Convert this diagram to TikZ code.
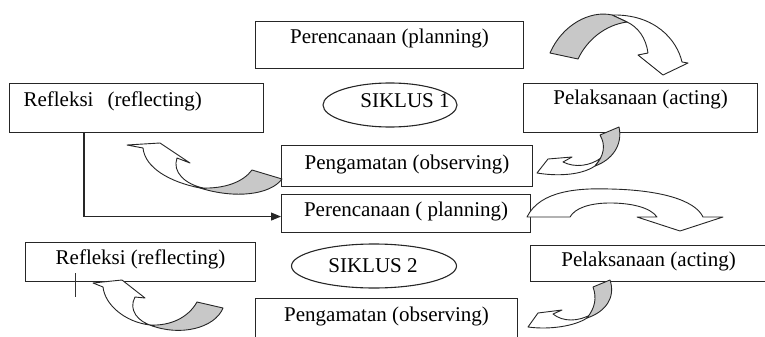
\documentclass[tikz,border=0pt]{standalone}
\usepackage{fontspec}
\setmainfont{Liberation Serif}
\usetikzlibrary{shapes.geometric,arrows.meta}
\newcommand{\stagefont}{\fontsize{21}{25}\selectfont}
\definecolor{backgrey}{RGB}{200,200,200}
\tikzset{
  stage/.style={draw=black!85, line width=1.1pt, inner sep=0pt, font=\stagefont, anchor=north west},
  siklusring/.style={draw=black!85, ellipse, line width=1.1pt, inner sep=0pt},
  bendfront/.style={draw=black!85, fill=white, line width=0.9pt, line join=round},
  bendback/.style={draw=black!85, fill=backgrey, line width=0.9pt, line join=round}
}

\begin{document}
\begin{tikzpicture}[x=1pt, y=-1pt]
			%%%%% START %%%%%
			\clip (0,0) rectangle (765,337);
			
			% siklus 1
			\node[stage, minimum width=268pt, text height=22pt, text depth=25pt] (plan1) at (255,21) {Perencanaan (planning)};
			\node[stage, text width=226pt, inner xsep=14pt, align=left, text height=23pt, text depth=26pt] (refl1) at (9,83) {Refleksi\ \ (reflecting)};
			\node[stage, minimum width=234pt, text height=21pt, text depth=28pt] (act1) at (523,83) {Pelaksanaan (acting)};
			\node[stage, minimum width=251pt, text height=24pt, text depth=17pt] (obs1) at (281,145) {Pengamatan (observing)};
			\node[siklusring, minimum width=134pt, minimum height=44pt] (siklus1) at (390,105) {};
			\node[font=\stagefont, anchor=base] (siklus1txt) at (405,107) {SIKLUS 1};
			
			% siklus 2
			\node[stage, minimum width=249pt, text height=22pt, text depth=16pt] (plan2) at (281,194) {Perencanaan ( planning)};
			\node[stage, minimum width=230pt, text height=22pt, text depth=17pt] (refl2) at (25,242) {Refleksi (reflecting)};
			\node[stage, minimum width=236pt, text height=21pt, text depth=15pt] (act2) at (530,245) {Pelaksanaan (acting)};
			\node[stage, minimum width=262pt, text height=23pt, text depth=30pt] (obs2) at (255,298) {Pengamatan (observing)};
			\node[siklusring, minimum width=165pt, minimum height=44pt] (siklus2) at (374,266) {};
			\node[font=\stagefont, anchor=base] (siklus2txt) at (373,272) {SIKLUS 2};
			
			\draw[line width=1.1pt, draw=black!85, -{Triangle[length=10pt,width=8pt]}] ([xshift=75pt]refl1.south west) |- ([yshift=-3pt]plan2.west);
			
			% cursor mark
			\draw[line width=0.8pt, black!80] (75,273) -- (75,297);
			
			% plan1 -> act1
			\draw[bendfront] (612,15) .. controls (655,14) and (677,40) .. (682,62) -- (688,63) -- (663,75) -- (638,55) -- (648,53) .. controls (646,38) and (638,27) .. (627,22) -- cycle;
			\draw[bendback] (550,53) .. controls (562,25) and (590,10) .. (612,15) -- (627,22) .. controls (605,25) and (587,40) .. (578,59) -- cycle;
			
			% act1 -> obs1
			\draw[bendfront] (595,166) .. controls (580,176) and (555,176) .. (537,173) -- (548,159) -- (572,157) -- (563,162) .. controls (575,168) and (590,166) .. (601,158) -- cycle;
			\draw[bendback] (600,135) -- (619,127) .. controls (623,145) and (612,160) .. (595,166) .. controls (604,156) and (606,145) .. (600,135) -- cycle;
			
			% obs1 -> refl1
			\draw[bendfront] (200,188) .. controls (170,182) and (145,168) .. (143,148) -- (127,145) -- (160,143) -- (190,163) -- (177,158) .. controls (172,172) and (185,184) .. (203,188) -- cycle;
			\draw[bendback] (252,170) -- (282,179) .. controls (270,195) and (235,199) .. (200,188) .. controls (225,189) and (243,182) .. (252,170) -- cycle;
			
			% plan2 -> act2
			\draw[bendfront] (527,217) .. controls (540,190) and (580,188) .. (610,189) .. controls (660,190) and (695,200) .. (703,217) -- (723,217) -- (680,231) -- (637,217) -- (657,217) .. controls (650,207) and (630,203) .. (610,203) .. controls (590,203) and (575,208) .. (570,217) -- cycle;
			
			% act2 -> obs2
			\draw[bendfront] (587,318) .. controls (575,326) and (550,330) .. (528,327) -- (538,313) -- (562,310) -- (553,314) .. controls (563,322) and (578,322) .. (592,314) -- cycle;
			\draw[bendback] (593,287) -- (610,280) .. controls (616,298) and (605,312) .. (587,318) .. controls (595,308) and (597,298) .. (593,287) -- cycle;
			
			% obs2 -> refl2
			\draw[bendfront] (150,325) .. controls (125,322) and (105,305) .. (103,287) -- (93,283) -- (122,280) -- (145,298) -- (135,297) .. controls (128,310) and (138,322) .. (153,326) -- cycle;
			\draw[bendback] (197,302) -- (223,308) .. controls (215,328) and (180,337) .. (150,325) .. controls (170,326) and (188,318) .. (197,302) -- cycle;
			
			%%%%% END %%%%%
\end{tikzpicture}
\end{document}
